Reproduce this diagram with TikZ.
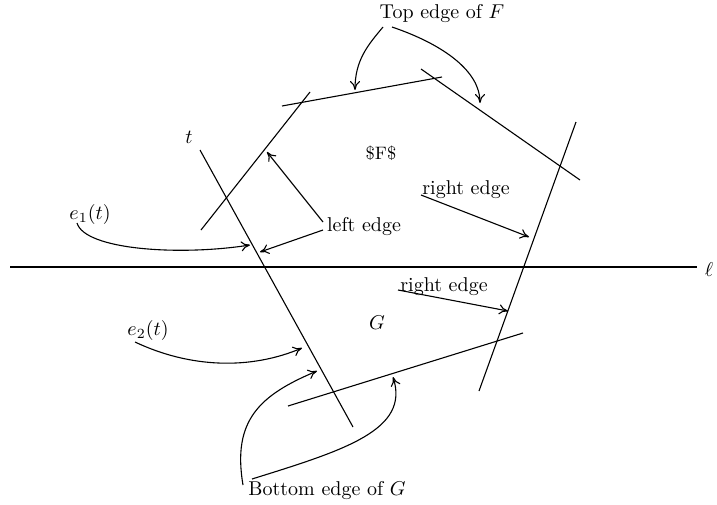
\documentclass[tikz,border=0pt]{standalone}
\usetikzlibrary{arrows.meta,positioning,calc}

\begin{document}
\begin{tikzpicture}[x=0.5pt, y=-0.5pt, >={To[length=4.5pt,width=5pt]}, line width=0.55pt, font=\normalsize]
  \useasboundingbox (0,0) rectangle (717,504);
  % the lines
  \coordinate (lA) at (10,267);   \coordinate (lB) at (697,267);
  \coordinate (tA) at (200,150);  \coordinate (tB) at (353,427);
  \coordinate (fLA) at (201,230); \coordinate (fLB) at (310,92);
  \coordinate (fTA) at (282,106); \coordinate (fTB) at (442,77);
  \coordinate (fRA) at (421,69);  \coordinate (fRB) at (580,180);
  \coordinate (rA) at (576,122);  \coordinate (rB) at (479,391);
  \coordinate (gBA) at (288,406); \coordinate (gBB) at (523,333);
  \draw (lA) -- (lB);
  \draw (tA) -- (tB);
  \draw (fLA) -- (fLB);
  \draw (fTA) -- (fTB);
  \draw (fRA) -- (fRB);
  \draw (rA) -- (rB);
  \draw (gBA) -- (gBB);
  % labels
  \node[inner sep=1pt] (ell) at (709,270) {$\ell$};
  \node (tlab) at (189,137) {$t$};
  \node (flab) at (381,153) {\small\$F\$};
  \node (glab) at (377,323) {$G$};
  \node (top) at (442,14) {Top edge of $F$};
  \node (left) at (364,227) {left edge};
  \node (right1) at (466,190) {right edge};
  \node (right2) at (444,287) {right edge};
  \node (e1) at (90,214) {$e_1(t)$};
  \node (e2) at (148,330) {$e_2(t)$};
  \node (bot) at (327,491) {Bottom edge of $G$};
  % arrow ends
  \coordinate (pTop1) at (355,90);
  \coordinate (pTop2) at (480,103);
  \coordinate (pLeft1) at (267,152);
  \coordinate (pLeft2) at (260,252);
  \coordinate (pRight1) at (529,237);
  \coordinate (pRight2) at (508,311);
  \coordinate (pE1) at (250,245);
  \coordinate (pE2) at (302,348);
  \coordinate (pBot1) at (317,371);
  \coordinate (pBot2) at (393,377);
  % arrows
  \draw[->] (383,27) .. controls (368,45) and (355,60) .. (pTop1);
  \draw[->] (392,27) .. controls (445,45) and (480,72) .. (pTop2);
  \draw[->] (323,222) -- (pLeft1);
  \draw[->] (323,230) -- (pLeft2);
  \draw[->] (421,195) -- (pRight1);
  \draw[->] (398,290) -- (pRight2);
  \draw[->] (77,223) .. controls (85,250) and (180,256) .. (pE1);
  \draw[->] (135,342) .. controls (190,368) and (250,370) .. (pE2);
  \draw[->] (243,485) .. controls (232,420) and (260,395) .. (pBot1);
  \draw[->] (252,479) .. controls (345,450) and (410,430) .. (pBot2);
\end{tikzpicture}
\end{document}
